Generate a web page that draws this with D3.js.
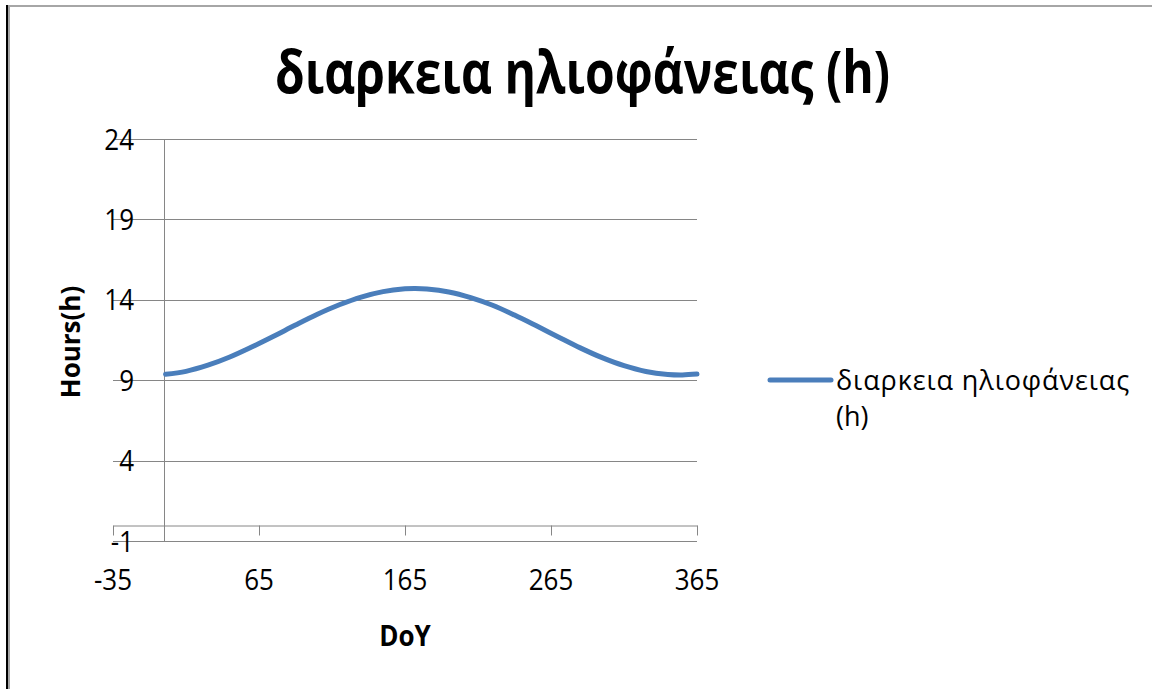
<!DOCTYPE html>
<html>
<head>
<meta charset="utf-8">
<script src="https://cdn.jsdelivr.net/npm/d3@7"></script>
<style>
  html, body { margin: 0; padding: 0; background: #fff; overflow: hidden; }
  text { font-family: "Open Sans", "Noto Sans", sans-serif; fill: #000; }
</style>
</head>
<body>
<svg id="chart" width="1152" height="689"></svg>
<script>
// Day length over the year
const chartTitle = "διαρκεια ηλιοφάνειας (h)";
const seriesName = "διαρκεια ηλιοφάνειας (h)";
const xTitle = "DoY";
const yTitle = "Hours(h)";

const days  = [1, 15, 30, 45, 60, 75, 90, 105, 120, 135, 150, 165, 172, 180, 195, 210, 225, 240, 255, 270, 285, 300, 315, 330, 345, 355, 365];
const hours = [9.37, 9.55, 9.93, 10.44, 11.06, 11.73, 12.43, 13.10, 13.69, 14.17, 14.51, 14.68, 14.70, 14.67, 14.49, 14.14, 13.66, 13.05, 12.38, 11.69, 11.01, 10.40, 9.90, 9.54, 9.36, 9.33, 9.38];

const xTicks = [-35, 65, 165, 265, 365];
const yTicks = [-1, 4, 9, 14, 19, 24];

const W = 1152, H = 689;
const gridColor = "#868686";
const lineColor = "#4A7EBB";

const svg = d3.select("#chart");
svg.append("rect").attr("width", W).attr("height", H).attr("fill", "#fff");

// chart area border
svg.append("rect").attr("x", 6).attr("y", 5).attr("width", 2).attr("height", H - 5).attr("fill", "#000");
svg.append("rect").attr("x", 8).attr("y", 5).attr("width", W - 8).attr("height", 2).attr("fill", "#a6a6a6");
svg.append("rect").attr("x", 8).attr("y", 7).attr("width", 2).attr("height", H - 7).attr("fill", "#a6a6a6");

const x = d3.scaleLinear().domain([-35, 365]).range([113, 697]);
const y = d3.scaleLinear().domain([-1, 24]).range([541, 139]);

// text with a slightly taller glyph shape
function tallText(parent, tx, ty, str, size, weight, anchor, sy) {
  return parent.append("text")
    .attr("transform", `translate(${tx},${ty}) scale(1,${sy})`)
    .attr("font-size", size)
    .attr("font-weight", weight)
    .attr("text-anchor", anchor)
    .text(str);
}

// horizontal gridlines
const grid = svg.append("g");
grid.selectAll("line").data(yTicks).join("line")
  .attr("x1", x(-35)).attr("x2", x(365))
  .attr("y1", d => Math.round(y(d)) + 0.5).attr("y2", d => Math.round(y(d)) + 0.5)
  .attr("stroke", gridColor).attr("stroke-width", 1);

// vertical axis crossing at x = 0
svg.append("line")
  .attr("x1", Math.round(x(0)) + 0.5).attr("x2", Math.round(x(0)) + 0.5)
  .attr("y1", y(24)).attr("y2", y(-1))
  .attr("stroke", gridColor).attr("stroke-width", 1);

// horizontal axis crossing at y = 0
const xAxis = d3.axisBottom(x).tickValues(xTicks).tickSize(10).tickSizeOuter(0).tickFormat("");
const gx = svg.append("g")
  .attr("transform", `translate(0,${Math.round(y(0)) + 0.5})`)
  .call(xAxis);
gx.select(".domain").attr("stroke", gridColor);
gx.selectAll(".tick line").attr("stroke", gridColor);

// tick labels
yTicks.forEach(t => {
  tallText(svg, 134, y(t) + 10.5, String(t), 26, 400, "end", 1.12);
});
xTicks.forEach(t => {
  tallText(svg, x(t), 590, String(t), 26, 400, "middle", 1.12);
});

// series line
const line = d3.line()
  .x((d, i) => x(days[i]))
  .y(d => y(d))
  .curve(d3.curveCatmullRom.alpha(0.5));
svg.append("path")
  .datum(hours)
  .attr("d", line)
  .attr("fill", "none")
  .attr("stroke", lineColor)
  .attr("stroke-width", 5)
  .attr("stroke-linecap", "round")
  .attr("stroke-linejoin", "round");

// titles
tallText(svg, 582.5, 93, chartTitle, 48, 700, "middle", 1.22);
tallText(svg, 405, 646, xTitle, 26, 700, "middle", 1.1);
svg.append("text")
  .attr("transform", "translate(80,342) rotate(-90)")
  .attr("font-size", 26).attr("font-weight", 700).attr("text-anchor", "middle")
  .text(yTitle);

// legend
const legend = svg.append("g");
legend.append("line")
  .attr("x1", 770).attr("x2", 831).attr("y1", 380).attr("y2", 380)
  .attr("stroke", lineColor).attr("stroke-width", 5).attr("stroke-linecap", "round");
const nameParts = seriesName.split(" (");
tallText(legend, 836, 390, nameParts[0], 27, 400, "start", 1.04).attr("letter-spacing", 0.9);
tallText(legend, 836, 426, "(" + nameParts[1], 27, 400, "start", 1.04);
</script>
</body>
</html>
